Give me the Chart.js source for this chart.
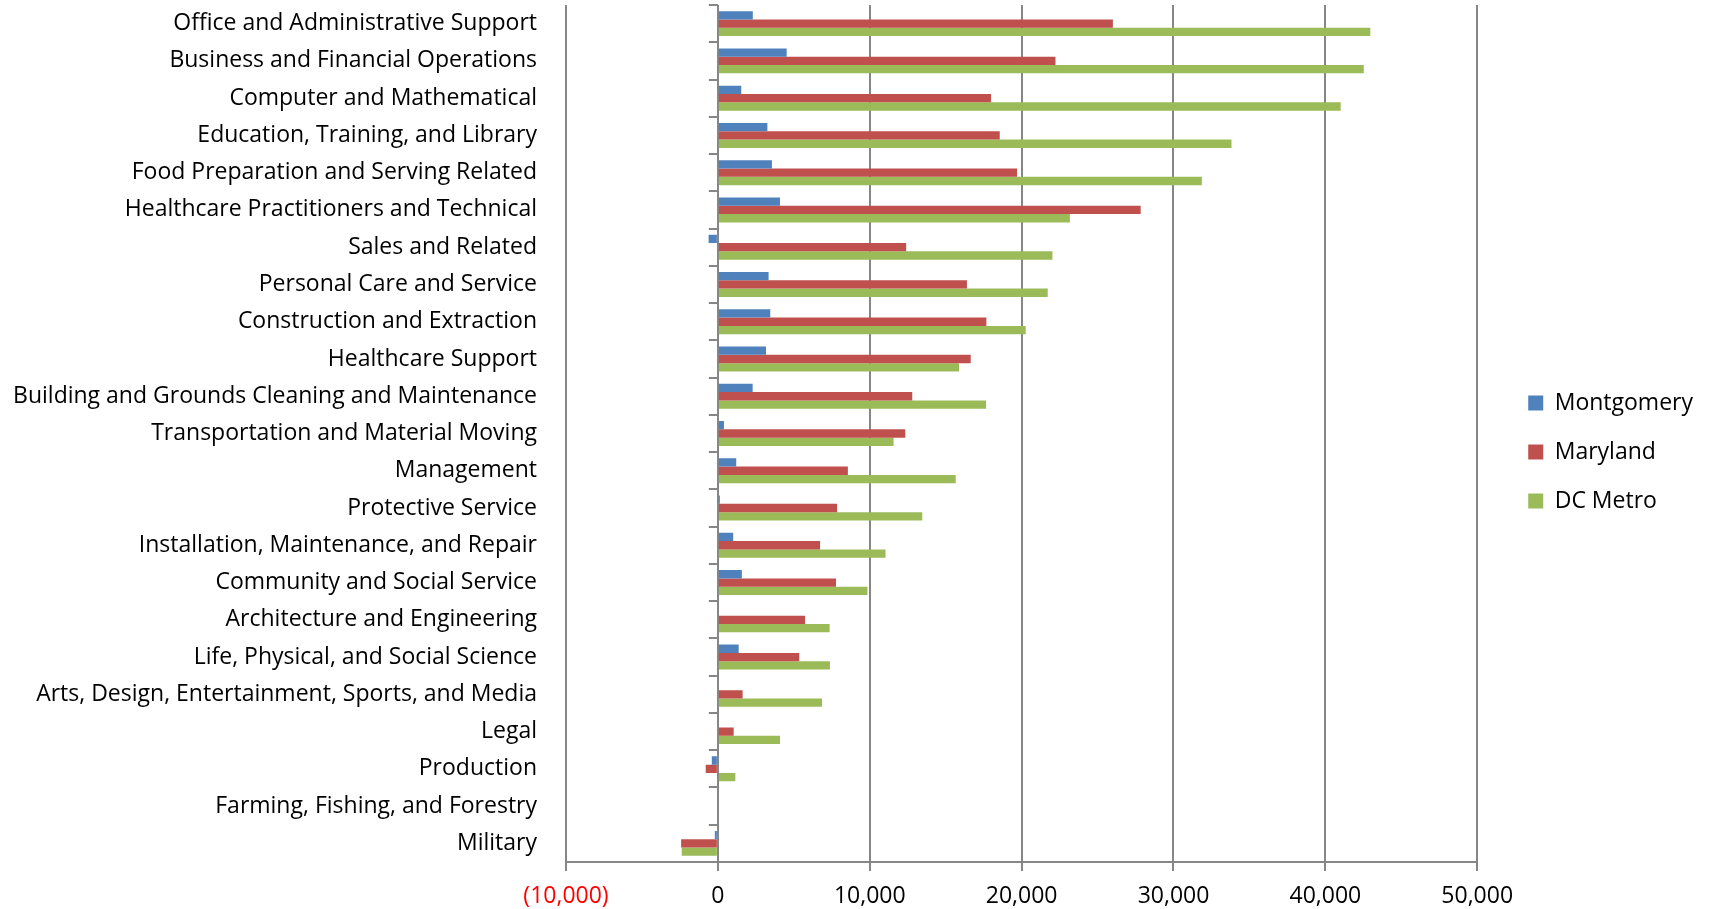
<!DOCTYPE html>
<html>
<head>
<meta charset="utf-8">
<script src="https://cdn.jsdelivr.net/npm/chart.js@4/dist/chart.umd.min.js"></script>
<style>
  html, body { margin: 0; padding: 0; background: #fff; }
  #wrap { width: 1711px; height: 909px; }
</style>
</head>
<body>
<div id="wrap"><canvas id="chart"></canvas></div>
<script>
// occupations, top to bottom
const categories = [
  'Office and Administrative Support',
  'Business and Financial Operations',
  'Computer and Mathematical',
  'Education, Training, and Library',
  'Food Preparation and Serving Related',
  'Healthcare Practitioners and Technical',
  'Sales and Related',
  'Personal Care and Service',
  'Construction and Extraction',
  'Healthcare Support',
  'Building and Grounds Cleaning and Maintenance',
  'Transportation and Material Moving',
  'Management',
  'Protective Service',
  'Installation, Maintenance, and Repair',
  'Community and Social Service',
  'Architecture and Engineering',
  'Life, Physical, and Social Science',
  'Arts, Design, Entertainment, Sports, and Media',
  'Legal',
  'Production',
  'Farming, Fishing, and Forestry',
  'Military'
];

const montgomery = [2300, 4530, 1540, 3260, 3560, 4090, -610, 3340, 3450, 3170, 2290, 400, 1210, 130, 1010, 1580, 0, 1370, 0, 0, -400, 0, -200];
const maryland   = [26010, 22230, 17990, 18560, 19700, 27840, 12400, 16400, 17680, 16650, 12800, 12340, 8560, 7850, 6730, 7780, 5740, 5360, 1630, 1040, -800, 0, -2420];
const dcMetro    = [42960, 42530, 41010, 33820, 31870, 23180, 22030, 21720, 20270, 15880, 17660, 11570, 15660, 13460, 11040, 9850, 7360, 7380, 6860, 4090, 1150, 0, -2380];

const seriesNames = ['Montgomery', 'Maryland', 'DC Metro'];
const seriesColors = ['#4F81BD', '#C0504D', '#9BBB59'];

const xMin = -10000;
const xMax = 50000;
const xStep = 10000;

const FONT = '"Open Sans", Lato, sans-serif';
const GRID = '#868686';

function fmt(v) {
  const s = Math.abs(v).toLocaleString('en-US');
  return v < 0 ? '(' + s + ')' : s;
}

// short marks between the groups on the zero line, like the excel category axis
const zeroAxisMarks = {
  id: 'zeroAxisMarks',
  afterDatasetsDraw(chart) {
    const xs = chart.scales.x, ys = chart.scales.y;
    const x0 = xs.getPixelForValue(0);
    const c = chart.ctx;
    c.save();
    c.strokeStyle = GRID;
    c.lineWidth = 2;
    c.beginPath();
    for (let i = 0; i <= categories.length; i++) {
      const yy = Math.round(ys.getPixelForValue(i - 0.5));
      c.moveTo(x0 - 9, yy);
      c.lineTo(x0, yy);
    }
    c.stroke();
    c.restore();
  }
};

// leave a gap between the plot and the legend swatches
const legendGap = {
  id: 'legendGap',
  afterLayout(chart) {
    const lg = chart.legend;
    if (lg) {
      lg.left += 25;
      lg.right += 25;
      lg.top -= 4;
      lg.bottom -= 4;
    }
  }
};

const values = [montgomery, maryland, dcMetro];
const datasets = values.map((data, i) => ({
  label: seriesNames[i],
  data: data,
  backgroundColor: seriesColors[i],
  borderWidth: 0,
  barPercentage: 1.0,
  categoryPercentage: 0.67
}));

new Chart(document.getElementById('chart'), {
  type: 'bar',
  data: { labels: categories, datasets },
  plugins: [zeroAxisMarks, legendGap],
  options: {
    indexAxis: 'y',
    responsive: true,
    maintainAspectRatio: false,
    animation: false,
    layout: { padding: { top: 5, bottom: 2, left: 6, right: 33 } },
    plugins: {
      tooltip: { enabled: false },
      legend: {
        position: 'right',
        labels: {
          boxWidth: 15,
          boxHeight: 15,
          padding: 26,
          color: '#000',
          font: { family: FONT, size: 23 }
        }
      }
    },
    scales: {
      x: {
        min: xMin,
        max: xMax,
        border: { color: GRID, width: 2 },
        grid: { color: GRID, lineWidth: 2, tickLength: 9 },
        afterFit: s => { s.height = 45; },
        ticks: {
          stepSize: xStep,
          padding: 12,
          font: { family: FONT, size: 23 },
          color: ctx => ctx.tick.value < 0 ? '#ff0000' : '#000',
          callback: v => fmt(v)
        }
      },
      y: {
        border: { display: false },
        grid: { display: false },
        afterFit: s => {
          s.width = 560;
          s.paddingTop = 0;
          s.paddingBottom = 0;
        },
        ticks: {
          padding: 21,
          color: '#000',
          autoSkip: false,
          font: { family: FONT, size: 23 }
        }
      }
    }
  }
});
</script>
</body>
</html>
